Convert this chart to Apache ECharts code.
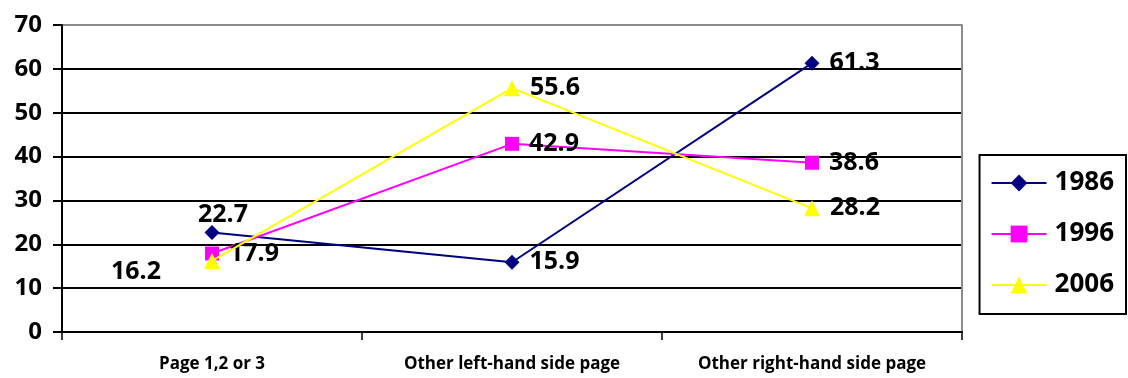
<!DOCTYPE html>
<html>
<head>
<meta charset="utf-8">
<script src="https://cdn.jsdelivr.net/npm/echarts@6/dist/echarts.min.js"></script>
<style>
  html, body { margin: 0; padding: 0; background: #fff; }
  #chart { width: 1128px; height: 378px; }
</style>
</head>
<body>
<div id="chart"></div>
<script>
const categories = ['Page 1,2 or 3', 'Other left-hand side page', 'Other right-hand side page'];
const seriesNames = ['1986', '1996', '2006'];
const values1986 = [22.7, 15.9, 61.3];
const values1996 = [17.9, 42.9, 38.6];
const values2006 = [16.2, 55.6, 28.2];
const yTicks = [0, 10, 20, 30, 40, 50, 60, 70];

const FONT = '"Open Sans", "Noto Sans", sans-serif';

const labelBase = {
  show: true,
  position: 'right',
  distance: 10,
  fontFamily: FONT,
  fontWeight: 'bold',
  fontSize: 25,
  color: '#000'
};

// per-point label overrides (series index -> point index -> label options)
const labelOverrides = {
  0: { 0: { position: 'top', distance: 0, offset: [11, 2] } },
  2: { 0: { position: 'left', distance: 43, offset: [0, 11] } }
};

function buildData(values, si) {
  return values.map((v, i) => {
    const o = labelOverrides[si] && labelOverrides[si][i];
    return o ? { value: v, label: o } : v;
  });
}

const styles = [
  { color: '#000080', symbol: 'diamond', size: 15 },
  { color: '#ff00ff', symbol: 'rect', size: 14 },
  { color: '#ffff00', symbol: 'triangle', size: 16 }
];

const allValues = [values1986, values1996, values2006];

const chart = echarts.init(document.getElementById('chart'));
chart.setOption({
  animation: false,
  backgroundColor: '#fff',
  grid: { left: 62, right: 166, top: 25, bottom: 46, containLabel: false },
  legend: {
    orient: 'vertical',
    right: 2,
    top: 155,
    padding: [15, 12, 16, 11],
    itemGap: 25,
    itemWidth: 55,
    itemHeight: 21,
    borderColor: '#000',
    borderWidth: 2,
    textStyle: { fontFamily: FONT, fontWeight: 'bold', fontSize: 26, color: '#000', padding: [0, 0, 0, 3] },
    data: seriesNames
  },
  xAxis: {
    type: 'category',
    data: categories,
    boundaryGap: true,
    axisLine: { lineStyle: { color: '#000', width: 2 } },
    axisTick: { show: true, length: 8, interval: 0, lineStyle: { color: '#000', width: 1.5 } },
    axisLabel: { margin: 24, fontFamily: FONT, fontWeight: 'bold', fontSize: 17, color: '#000', interval: 0 }
  },
  yAxis: [{
    type: 'value',
    min: yTicks[0],
    max: yTicks[yTicks.length - 1],
    interval: 10,
    axisLine: { show: true, lineStyle: { color: '#000', width: 2 } },
    axisTick: { show: true, length: 9, lineStyle: { color: '#000', width: 2 } },
    axisLabel: { margin: 20, fontFamily: FONT, fontWeight: 'bold', fontSize: 24, color: '#000' },
    splitLine: { show: true, lineStyle: { color: ['#000', '#000', '#000', '#000', '#000', '#000', '#000', '#8c8c8c'], width: 2 } }
  }, {
    type: 'value',
    position: 'right',
    min: yTicks[0],
    max: yTicks[yTicks.length - 1],
    interval: 10,
    axisLine: { show: true, lineStyle: { color: '#8c8c8c', width: 2 } },
    axisTick: { show: false },
    axisLabel: { show: false },
    splitLine: { show: false }
  }],
  series: allValues.map((vals, si) => ({
    name: seriesNames[si],
    type: 'line',
    data: buildData(vals, si),
    symbol: styles[si].symbol,
    symbolSize: styles[si].size,
    lineStyle: { color: styles[si].color, width: 2 },
    itemStyle: { color: styles[si].color },
    label: labelBase,
    z: 3 + si
  }))
});
</script>
</body>
</html>
